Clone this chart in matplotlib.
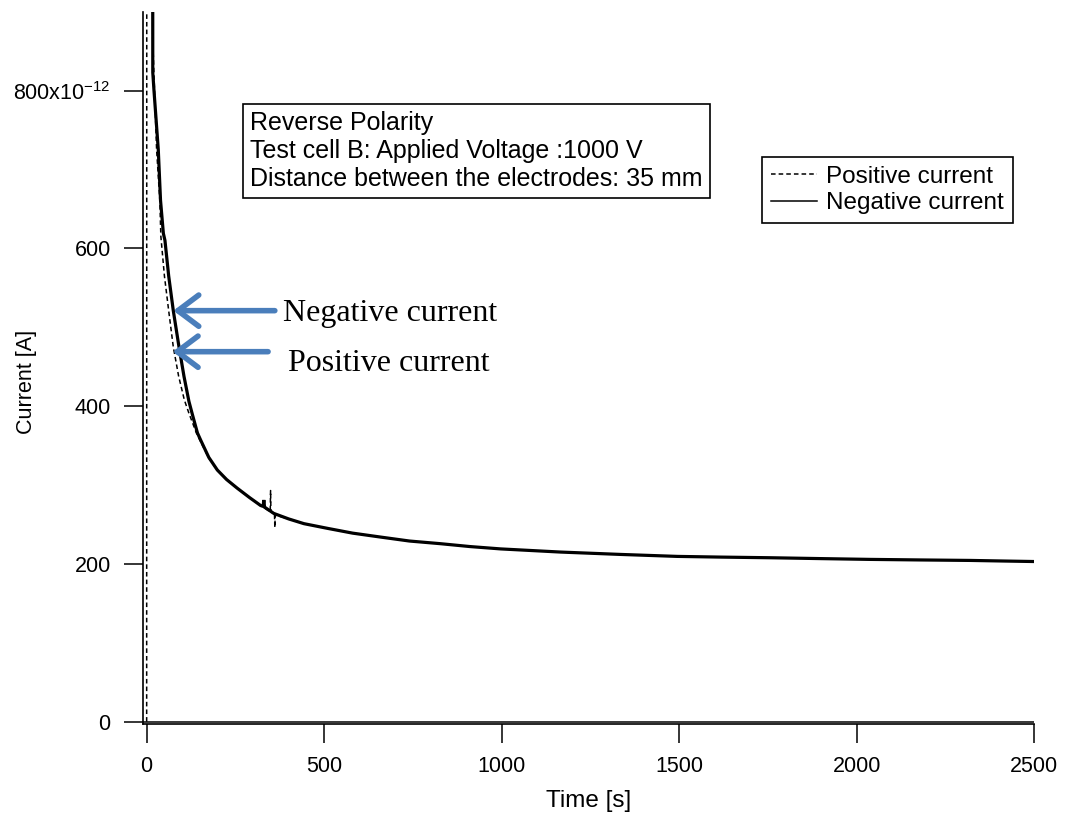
# -*- coding: utf-8 -*-

"""
Current decay plot for test cell B under reverse polarity.
"""

# %% Imports
import numpy as np
import matplotlib
matplotlib.use("Agg")
import matplotlib.pyplot as plt
from matplotlib.ticker import FuncFormatter

# %% Data (currents in pA, time in s)
# negative current trace
neg_time = [16.9, 17.2, 20.6, 32.7, 39.0, 47.0, 51.5, 62.0, 75.0, 90.0, 105.0,
            119.0, 129.0, 143.0, 152.0, 175.0, 199.0, 225.0, 255.0, 290.0,
            321.0, 328.0, 330.0, 332.0, 358.0, 400.0, 443.0, 510.0, 580.0,
            659.0, 740.0, 828.0, 910.0, 997.0, 1166.0, 1335.0, 1495.0, 1620.0,
            1757.0, 1900.0, 2039.0, 2180.0, 2320.0, 2420.0, 2500.0]
neg_current = [1100, 823, 800, 725, 661, 619, 610, 565, 521, 478, 438,
               406, 389, 366, 357, 335, 319, 307, 296, 284,
               274, 273, 281, 272, 264, 257, 251, 245, 239,
               234, 229, 225.6, 222, 219, 215, 212, 209.5, 208.6,
               207.8, 206.7, 205.7, 205.0, 204.4, 203.6, 203]

# positive current trace
pos_time = [0.0, 0.3, 16.8, 17.0, 28.0, 37.0, 40.0, 50.0, 62.0, 75.0, 90.0,
            106.0, 119.0, 140.0, 152.0, 175.0, 199.0, 225.0, 255.0, 290.0,
            321.0, 348.0, 349.0, 350.0, 360.0, 361.0, 362.0, 400.0, 443.0,
            510.0, 580.0, 659.0, 740.0, 828.0, 910.0, 997.0, 1166.0, 1335.0,
            1495.0, 1620.0, 1757.0, 1900.0, 2039.0, 2180.0, 2320.0, 2420.0,
            2500.0]
pos_current = [0, 1200, 1200, 866, 725, 661, 615, 565, 521, 475, 438,
               408, 391, 366, 355, 334, 319, 307, 296, 284,
               274, 266, 293, 266, 263, 246, 262, 257, 251,
               245, 239, 234, 229, 225.6, 222, 219, 215, 212,
               209.5, 208.6, 207.8, 206.7, 205.7, 205.0, 204.4, 203.6,
               203]

x_ticks = [0, 500, 1000, 1500, 2000, 2500]
y_ticks = [0, 200, 400, 600, 800]

info_lines = ["Reverse Polarity",
              "Test cell B: Applied Voltage :1000 V",
              "Distance between the electrodes: 35 mm"]

# %% Style
plt.rcParams["font.family"] = ["Liberation Sans", "DejaVu Sans"]
plt.rcParams["mathtext.fontset"] = "custom"
plt.rcParams["mathtext.rm"] = "Liberation Sans"

arrow_blue = "#4a7ebb"


def y_label(val, pos):
    if val == 800:
        return r"800x10$^{\mathregular{-12}}$"
    return "%d" % val


# %% Figure
fig = plt.figure(figsize=(10.71, 8.16), dpi=100)
ax = fig.add_axes([0.1332, 0.1124, 0.8325, 0.8733])

ax.plot(pos_time, pos_current, color="black", lw=1.1, dashes=(3, 2),
        label="Positive current")
ax.plot(neg_time, neg_current, color="black", lw=2.3,
        solid_joinstyle="miter", label="Negative current")
ax.axhline(0, color="black", lw=1.1)

ax.set_xlim(-11.3, 2500)
ax.set_ylim(-3.3, 900)
ax.set_xticks(x_ticks)
ax.set_yticks(y_ticks)
ax.yaxis.set_major_formatter(FuncFormatter(y_label))

for side in ["top", "right"]:
    ax.spines[side].set_visible(False)
for side in ["left", "bottom"]:
    ax.spines[side].set_linewidth(1.2)
ax.tick_params(direction="out", length=14, width=1.1, pad=9, labelsize=15.5)

ax.set_xlabel("Time [s]", fontsize=17.5)
ax.set_ylabel("Current [A]", fontsize=15.5)
ax.xaxis.set_label_coords(0.5, -0.092)
ax.yaxis.set_label_coords(-0.118, 0.48)

# info box
fig.text(250 / 1071, 1 - 111 / 816, "\n".join(info_lines), fontsize=18,
         ha="left", va="top", linespacing=1.2,
         bbox=dict(boxstyle="square,pad=0.3", fc="white", ec="black", lw=1.2))

# legend
leg = ax.legend(loc="upper left", bbox_to_anchor=(762 / 1071, 1 - 157 / 816),
                bbox_transform=fig.transFigure, fontsize=17.5, frameon=True,
                fancybox=False, edgecolor="black", framealpha=1,
                handlelength=1.9, handletextpad=0.4, borderpad=0.35,
                labelspacing=0.2, borderaxespad=0)
leg.get_frame().set_linewidth(1.2)
for h in leg.get_lines():
    h.set_linewidth(1.1)

# arrows pointing at the two traces
for tip, tail_t, label, txt_t, txt_y in [((75, 521), 361, "Negative current", 384, 517),
                                        ((73, 469), 342, "Positive current", 398, 454)]:
    ax.annotate("", xy=tip, xytext=(tail_t, tip[1]),
                arrowprops=dict(arrowstyle="->,head_length=0.6,head_width=0.45",
                                lw=4, color=arrow_blue, mutation_scale=25,
                                shrinkA=0, shrinkB=0))
    ax.text(txt_t, txt_y, label, fontsize=23, ha="left", va="center",
            family=["Liberation Serif", "DejaVu Serif"])

fig.savefig("out.png", dpi=100)
